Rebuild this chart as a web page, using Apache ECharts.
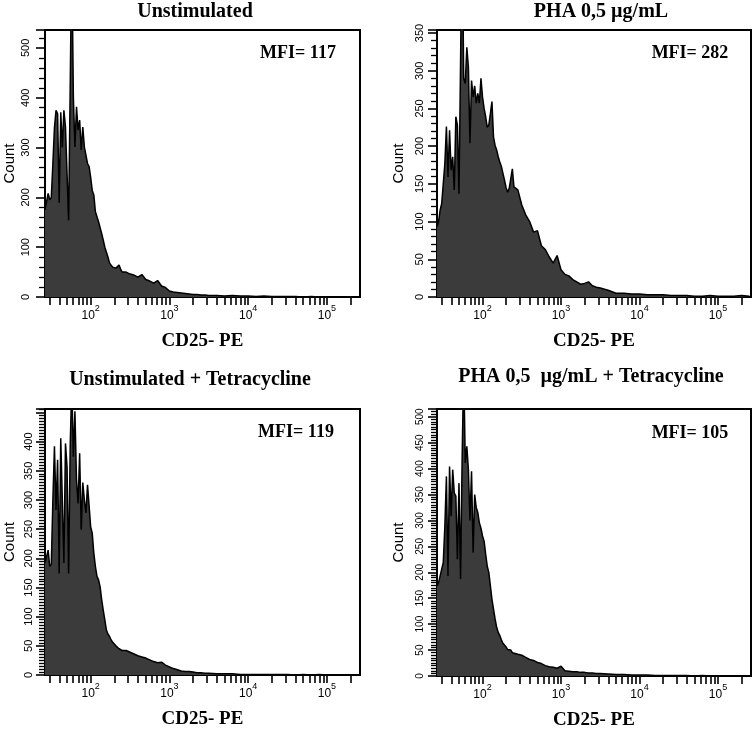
<!DOCTYPE html>
<html>
<head>
<meta charset="utf-8">
<script src="https://cdn.jsdelivr.net/npm/echarts@6/dist/echarts.min.js"></script>
<style>
html,body{margin:0;padding:0;background:#fff;}
#chart{width:756px;height:731px;}
</style>
</head>
<body>
<div id="chart"></div>
<script>
// log10 of CD25-PE intensity at bin centres
const binLog = [
  1.42,1.44,1.46,1.48,1.50,1.52,1.54,1.56,1.58,1.60,1.62,1.64,1.66,1.68,1.70,1.72,1.74,1.76,1.78,1.80,
  1.82,1.84,1.86,1.88,1.90,1.92,1.94,1.96,1.98,2.00,2.02,2.04,2.06,2.08,2.10,2.12,2.14,2.16,2.18,2.20,
  2.22,2.24,2.26,2.28,2.30,2.32,2.34,2.36,2.38,2.40,
  2.45,2.50,2.55,2.60,2.65,2.70,2.75,2.80,2.85,2.90,2.95,3.00,3.05,3.10,3.15,3.20,3.25,3.30,3.35,3.40,3.45,3.50,
  3.6,3.7,3.8,3.9,4.0,4.1,4.2,4.3,4.4,4.5,4.6,4.7,4.8,4.9,5.0,5.1,5.2,5.3,5.4
];

const countsUnstim = [
  175,178,208,195,200,268,340,375,368,189,371,300,375,341,340,154,422,700,402,301,
  382,335,355,295,341,301,301,268,262,240,214,205,171,167,151,147,127,114,100,90,
  80,68,64,60,64,58,62,64,56,50,
  50,46,44,40,45,35,32,28,33,22,19,12,10,9,8,7,6,5,5,4,4,3,
  3,2,3,2,2,1,2,1,1,1,1,0,1,0,0,0,0,0,0
];
const countsPHA = [
  93,100,115,124,124,177,226,159,221,168,186,142,239,228,137,310,500,290,283,331,
  305,204,287,265,280,257,270,257,290,265,250,239,225,228,243,259,212,201,195,186,
  179,173,164,155,145,139,144,142,170,146,
  142,122,109,100,86,88,68,63,53,45,55,36,30,28,23,20,17,18,20,15,13,12,
  9,5,5,4,4,3,3,3,2,2,2,1,1,2,1,1,1,2,1
];
const countsUnstimTet = [
  192,203,214,186,190,300,392,283,369,174,406,300,192,397,357,174,392,500,374,452,
  334,294,380,249,330,300,278,326,290,254,243,209,186,169,163,151,129,111,94,77,
  70,66,60,56,53,50,48,45,43,42,
  42,39,36,33,31,29,26,23,21,22,17,14,11,9,7,6,6,5,4,4,3,3,
  2,2,2,1,1,1,1,1,1,1,0,1,0,1,0,0,0,0,0
];
const countsPHATet = [
  174,180,193,206,219,289,385,193,404,308,398,353,347,225,372,187,417,600,411,443,
  398,300,395,238,350,325,315,295,285,270,260,235,212,200,174,148,129,110,94,84,
  78,70,63,60,56,51,48,50,45,43,
  42,40,36,32,30,26,24,20,18,17,15,19,10,9,8,8,7,7,6,6,5,5,
  4,3,3,2,2,2,1,1,1,1,1,0,1,0,0,0,0,0,0
];

const panelTitles = ['Unstimulated', 'PHA 0,5 \u00b5g/mL', 'Unstimulated + Tetracycline', 'PHA 0,5  \u00b5g/mL + Tetracycline'];
const mfiLabels = ['MFI= 117', 'MFI= 282', 'MFI= 119', 'MFI= 105'];
const xAxisTitle = 'CD25- PE';
const yAxisTitle = 'Count';
const xTickIntensities = [30,40,50,60,70,80,90,100,200,300,400,500,600,700,800,900,1000,
  2000,3000,4000,5000,6000,7000,8000,9000,10000,20000,30000,40000,50000,60000,70000,80000,90000,100000,200000];
const xLabelExponents = [2,3,4,5];
const yLabelsUnstim = [0,100,200,300,400,500];
const yLabelsPHA = [0,50,100,150,200,250,300,350];
const yLabelsUnstimTet = [0,50,100,150,200,250,300,350,400];
const yLabelsPHATet = [0,50,100,150,200,250,300,350,400,450,500];
const yMaxes = [536, 354, 456, 515];
const yIntervals = [100, 50, 50, 50];

const allCounts = [countsUnstim, countsPHA, countsUnstimTet, countsPHATet];
const allYLabels = [yLabelsUnstim, yLabelsPHA, yLabelsUnstimTet, yLabelsPHATet];

// layout
const grids = [
  {left:45, top:30, width:315, height:267},
  {left:437, top:30, width:314, height:267},
  {left:45, top:409, width:315, height:266},
  {left:437, top:409, width:314, height:268}
];
const minorSplits = [5, 5, 10, 10];
const yLabelMargins = [14, 12, 11, 12];
const yLabelSizes = [11, 11, 11, 10];
const yNameGaps = [28, 31, 28, 31];
const titlePos = [[195, 12], [601, 12], [190, 380], [591, 377]];
const mfiPos = [[298, 53], [690, 53], [296, 432], [690, 433]];

const chart = echarts.init(document.getElementById('chart'), null, {renderer:'canvas'});

const xAxes = [], yAxes = [], series = [], graphic = [];
for (let i = 0; i < 4; i++) {
  xAxes.push({
    gridIndex: i, type: 'value', min: 1.42, max: 5.42,
    name: xAxisTitle, nameLocation: 'middle', nameGap: 35,
    nameTextStyle: {fontFamily: 'Liberation Serif', fontWeight: 'bold', fontSize: 19, color: '#000'},
    axisLine: {show: true, onZero: false, lineStyle: {color: '#000', width: 2}},
    axisTick: {show: true, inside: false, length: 8, lineStyle: {color: '#000', width: 1.6},
      customValues: xTickIntensities.map(v => Math.log10(v))},
    axisLabel: {show: true, margin: 7, customValues: xLabelExponents,
      formatter: v => '{a|10}{b|' + Math.round(v) + '}',
      rich: {
        a: {fontFamily: 'Liberation Sans', fontSize: 12, color: '#000', lineHeight: 18, verticalAlign: 'bottom'},
        b: {fontFamily: 'Liberation Sans', fontSize: 9, color: '#000', lineHeight: 18, verticalAlign: 'top'}
      }},
    splitLine: {show: false}
  });
  yAxes.push({
    gridIndex: i, type: 'value', min: 0, max: yMaxes[i], interval: yIntervals[i],
    name: yAxisTitle, nameLocation: 'middle', nameGap: yNameGaps[i], nameRotate: 90,
    nameTextStyle: {fontFamily: 'Liberation Sans', fontSize: 15, color: '#000'},
    axisLine: {show: true, lineStyle: {color: '#000', width: 2}},
    axisTick: {show: true, inside: false, length: 9, lineStyle: {color: '#000', width: 1.6}},
    minorTick: {show: true, splitNumber: minorSplits[i], length: 6, lineStyle: {color: '#000', width: 1.3}},
    axisLabel: {rotate: 90, margin: yLabelMargins[i], fontFamily: 'Liberation Sans', fontSize: yLabelSizes[i],
      color: '#000', customValues: allYLabels[i]},
    splitLine: {show: false}, minorSplitLine: {show: false}
  });
  series.push({
    type: 'line', xAxisIndex: i, yAxisIndex: i,
    data: binLog.map((x, k) => [x, allCounts[i][k]]),
    showSymbol: false, symbol: 'none', clip: true, silent: true,
    lineStyle: {color: '#000', width: 1.5},
    areaStyle: {color: '#3b3b3b', opacity: 1}
  });
  graphic.push({
    type: 'text', x: titlePos[i][0], y: titlePos[i][1],
    style: {text: panelTitles[i], font: 'bold 20px "Liberation Serif"', fill: '#000',
      textAlign: 'center', textVerticalAlign: 'middle', align: 'center', verticalAlign: 'middle'}
  });
  graphic.push({
    type: 'text', x: mfiPos[i][0], y: mfiPos[i][1],
    style: {text: mfiLabels[i], font: 'bold 18px "Liberation Serif"', fill: '#000',
      textAlign: 'center', textVerticalAlign: 'middle', align: 'center', verticalAlign: 'middle'}
  });
}

chart.setOption({
  animation: false,
  backgroundColor: '#fff',
  grid: grids.map(g => Object.assign({show: true, borderColor: '#000', borderWidth: 2, backgroundColor: '#fff'}, g)),
  xAxis: xAxes,
  yAxis: yAxes,
  series: series,
  graphic: graphic
});
</script>
</body>
</html>
